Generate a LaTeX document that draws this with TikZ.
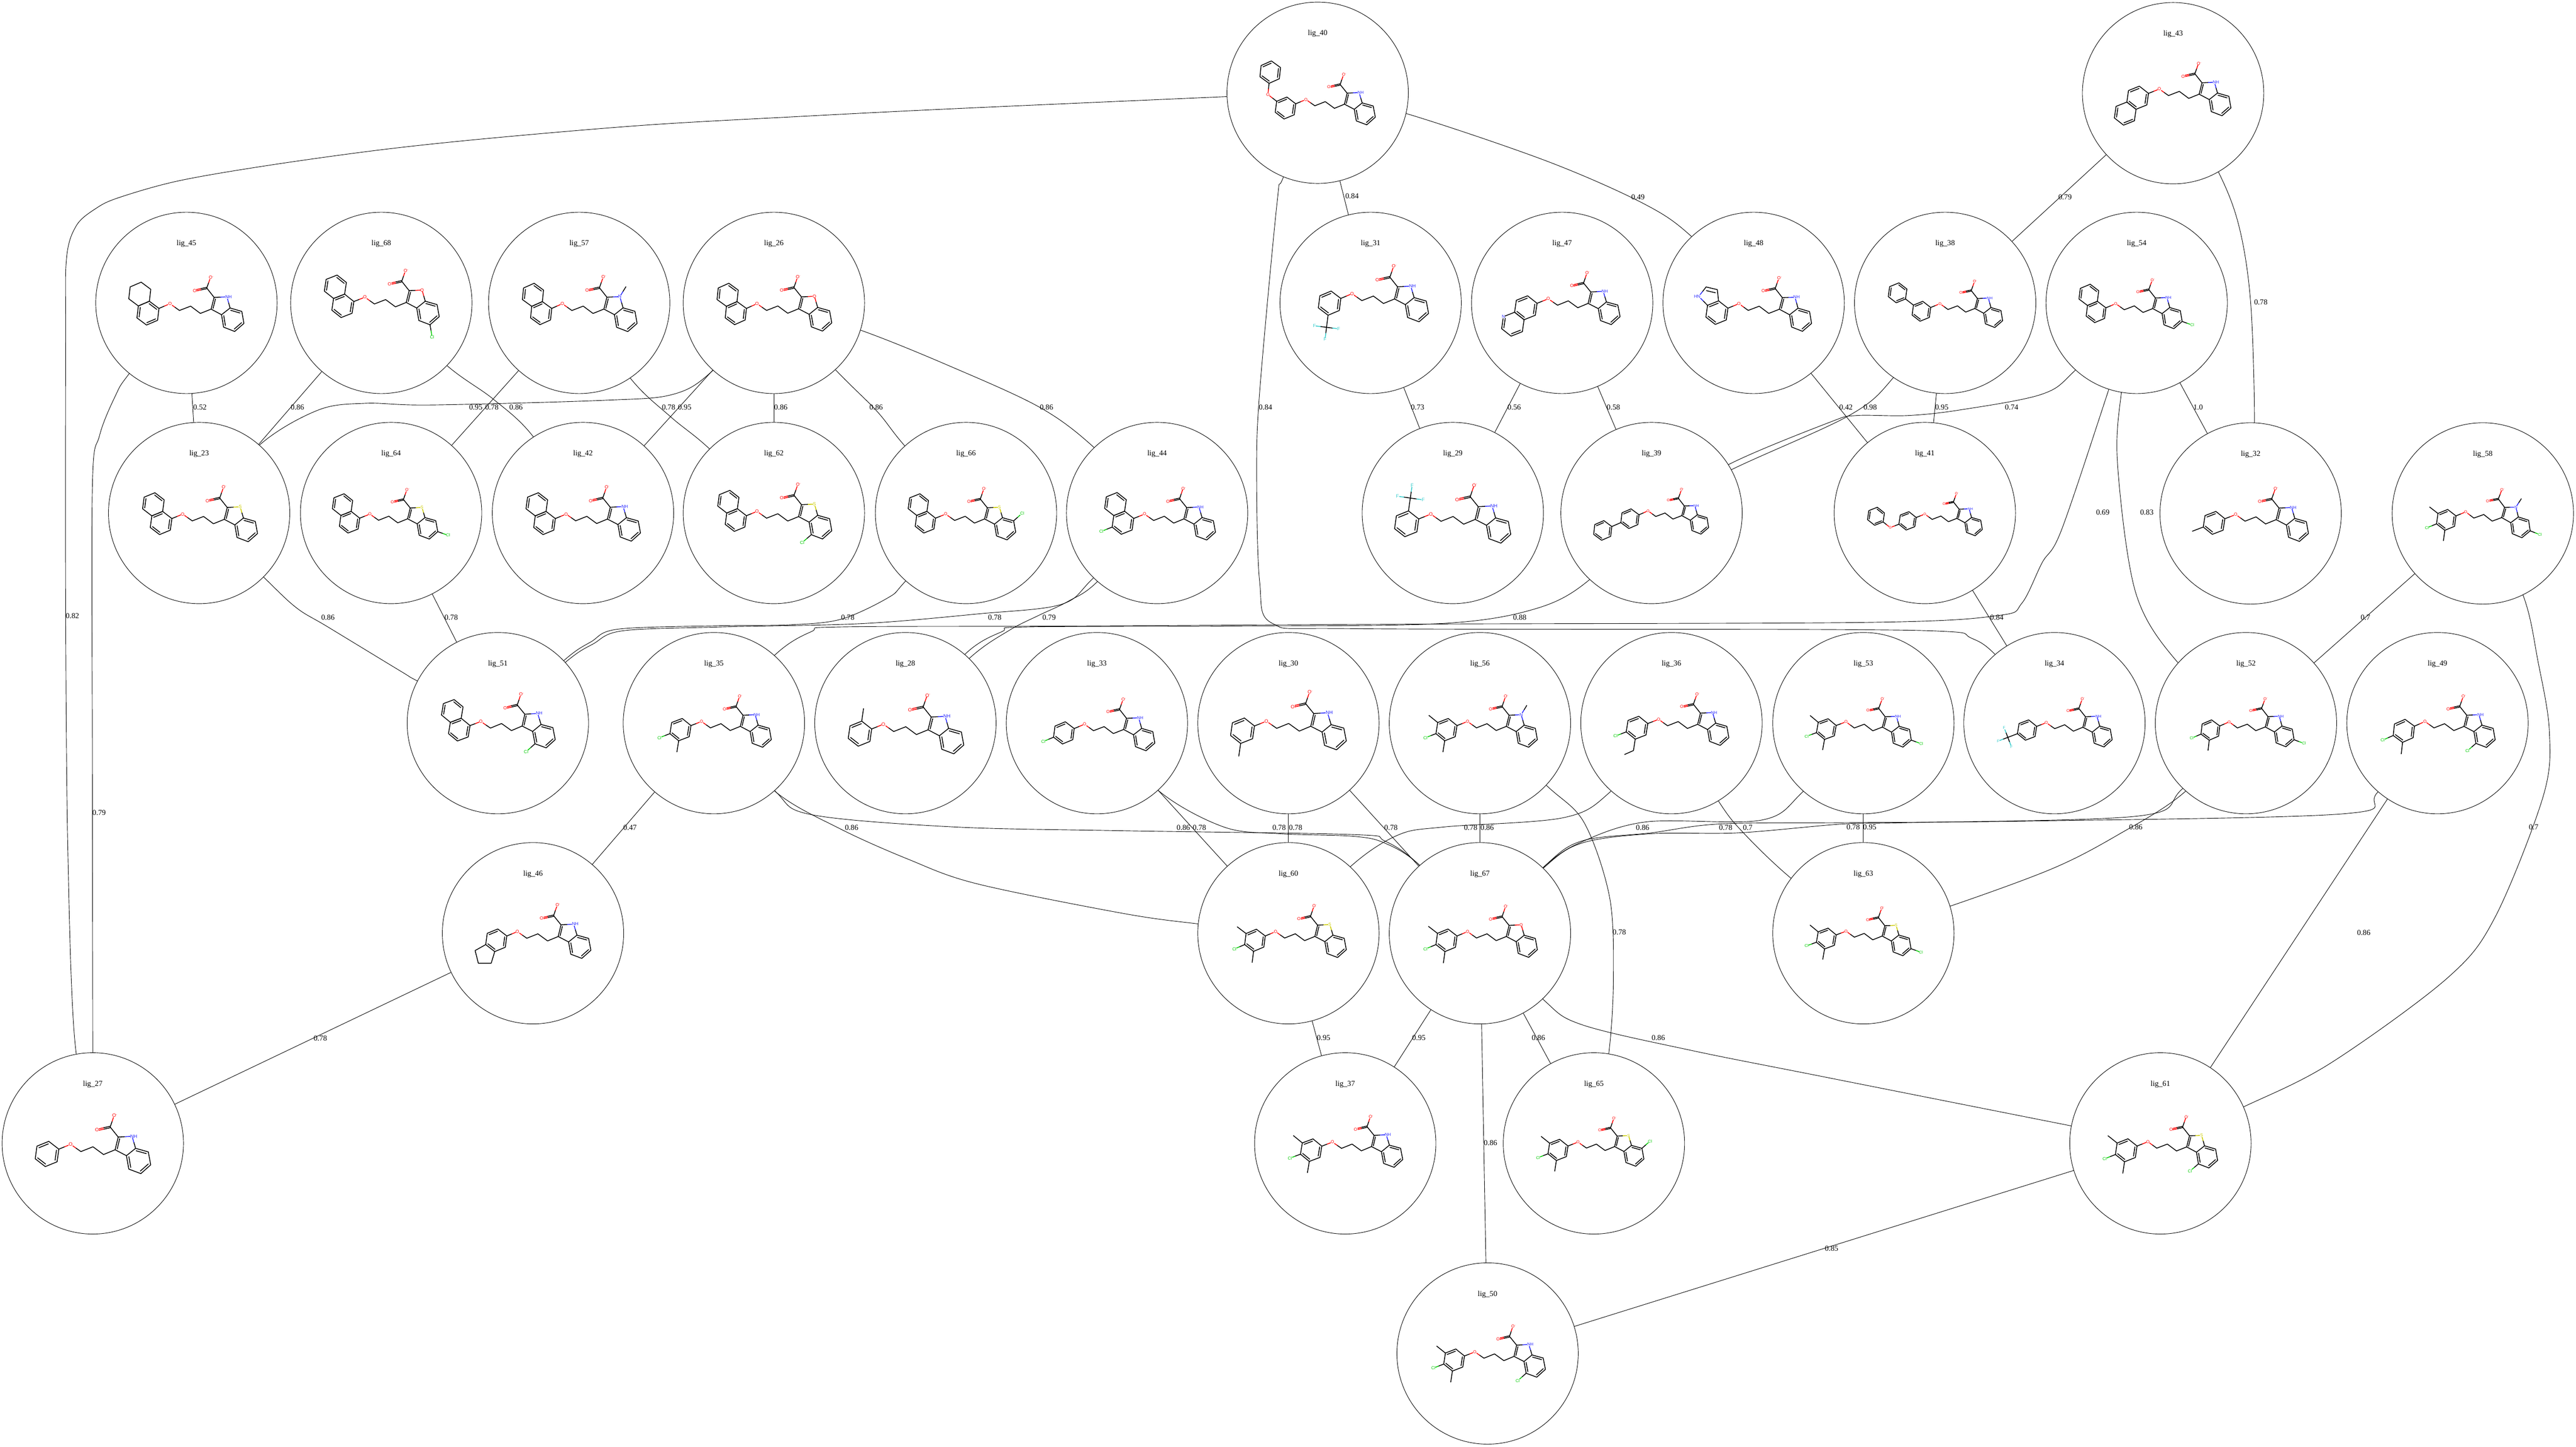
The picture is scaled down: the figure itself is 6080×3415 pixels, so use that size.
\documentclass[tikz,border=0pt]{standalone}
\usepackage{fontspec}
\setmainfont{Liberation Serif}
\setsansfont{Liberation Sans}
\usetikzlibrary{calc,backgrounds}
\definecolor{oxr}{RGB}{255,0,0}
\definecolor{azb}{RGB}{40,40,255}
\definecolor{clg}{RGB}{0,204,0}
\definecolor{syl}{RGB}{204,204,0}
\definecolor{fcy}{RGB}{51,204,204}
\newcounter{atomctr}
\newcounter{edgectr}
\tikzset{
  ligc/.style={circle,draw=black,fill=white,line width=.55pt,minimum size=214pt,inner sep=0pt},
  ligname/.style={font=\fontsize{9}{10}\selectfont,inner sep=0pt,text=black},
  elabel/.style={font=\fontsize{9}{10}\selectfont,inner sep=0pt,text=black},
  edgeline/.style={draw=black,line width=.55pt,line join=round},
  bond/.style={draw=black,line width=.95pt,line cap=round,line join=round},
  atomlab/.style={font=\molfont,fill=white,inner sep=.15pt,outer sep=0pt}
}
\def\molfont{\sffamily\fontsize{\molfs}{\molfs}\selectfont}
\newcommand\lig[3]{\node[ligc] (n#1) at (#2,#3) {}; \node[ligname] (t#1) at ($(n#1)+(0,-139.5)$) {lig\_#1};}
\newcommand\elab[3]{\stepcounter{edgectr}\node[elabel] (e\theedgectr) at (#1,#2) {#3};}
\newcommand\alab[3]{\stepcounter{atomctr}\node[atomlab,text=#2] (atom\theatomctr) at (#1) {#3};}
\newcommand\hb[3]{\draw[bond] (#1) -- ($(#1)!.5!(#2)$); \draw[bond,draw=#3] ($(#1)!.5!(#2)$) -- (#2);}
\newcommand\dbl[3]{\draw[bond] ($(#1)!.2!(#3)$) -- ($(#2)!.2!(#3)$);}
\newcommand\cc[3]{\coordinate (#1) at ($(Oe)+({\mola*(#2)-\molb*(#3)},{\molb*(#2)+\mola*(#3)})$);}
\newcommand\core[7]{%
  \def\molnode{#1}%
  \pgfmathsetmacro\mola{((#4-#2)*1.89+(#5-#3)*.483)/380.54}%
  \pgfmathsetmacro\molb{((#5-#3)*1.89-(#4-#2)*.483)/380.54}%
  \pgfmathsetmacro\mols{sqrt(\mola*\mola+\molb*\molb)}%
  \pgfmathsetmacro\molfs{5.7*\mols}%
  \pgfmathsetmacro\molfsb{3.6*\mols}%
  \pgfmathsetmacro\mold{0.85*\mols}%
  \coordinate (Oe) at ($(#1)+(#2,#3)$);
  \cc{Xa}{24.3}{17}\cc{Xb}{52.7}{5.7}\cc{Xc}{77.7}{24}\cc{X3}{105}{12.7}\cc{X2}{112.3}{-17.3}
  \cc{XN}{145}{-19}\cc{X7a}{153.3}{9.3}\cc{X3a}{131.7}{26.7}\cc{X4}{137.3}{58.3}\cc{X5}{165.7}{69}
  \cc{X6}{189}{48.3}\cc{X7}{183.3}{17.7}\cc{XC}{93.3}{-41}\cc{XOd}{62.3}{-34}\cc{XOm}{102.7}{-68.3}
  \cc{Rb}{160.3}{38.3}\cc{Rf}{129.8}{2.4}\cc{XMe}{160}{-44}
  \draw[bond] (Xa)--(Xb)--(Xc)--(X3)--(X2)--(XC);
  \draw[bond] (X3)--(X3a)--(X7a)--(X7)--(X6)--(X5)--(X4)--(X3a);
  \dbl{X3a}{X4}{Rb}\dbl{X5}{X6}{Rb}\dbl{X7}{X7a}{Rb}\dbl{X3}{X2}{Rf}
  \hb{XC}{XOm}{oxr}
  \coordinate (Da) at ($(XC)!\mold pt!90:(XOd)$);
  \coordinate (Db) at ($(XOd)!\mold pt!-90:(XC)$);
  \coordinate (Dc) at ($(XC)!\mold pt!-90:(XOd)$);
  \coordinate (Dd) at ($(XOd)!\mold pt!90:(XC)$);
  \hb{Da}{Db}{oxr}\hb{Dc}{Dd}{oxr}
  \hb{Xa}{Oe}{oxr}
  \ifcase#6\or
    \hb{X2}{XN}{azb}\hb{X7a}{XN}{azb}\alab{XN}{azb}{N\rlap{H}}%
  \or
    \hb{X2}{XN}{azb}\hb{X7a}{XN}{azb}\hb{XMe}{XN}{azb}\alab{XN}{azb}{N}%
  \or
    \hb{X2}{XN}{syl}\hb{X7a}{XN}{syl}\alab{XN}{syl}{S}%
  \or
    \hb{X2}{XN}{oxr}\hb{X7a}{XN}{oxr}\alab{XN}{oxr}{O}%
  \fi
  \ifnum#7>0
    \coordinate (Cx) at ($(Rb)!2!(X#7)$);
    \hb{X#7}{Cx}{clg}\alab{Cx}{clg}{Cl}%
  \fi
  \alab{XOd}{oxr}{O}%
  \alab{XOm}{oxr}{O\rlap{\raisebox{.35em}{\fontsize{\molfsb}{\molfsb}\selectfont -}}}%
}
\newcommand\hexv[3]{%
  \coordinate (#10) at (#3);
  \coordinate (#11) at ($(#2)!1!60:(#3)$);
  \coordinate (#12) at ($(#2)!1!120:(#3)$);
  \coordinate (#13) at ($(#2)!1!180:(#3)$);
  \coordinate (#14) at ($(#2)!1!240:(#3)$);
  \coordinate (#15) at ($(#2)!1!300:(#3)$);
}
\newcommand\hexdraw[1]{\draw[bond] (#10)--(#11)--(#12)--(#13)--(#14)--(#15)--cycle;}
\newcommand\pat[2]{\dbl{#11}{#12}{#2}\dbl{#13}{#14}{#2}\dbl{#15}{#10}{#2}}
\newcommand\ringA[2]{%
  \coordinate (R) at ($(\molnode)+(#1,#2)$);
  \coordinate (A) at ($(R)!.5!(Oe)$);
  \hexv{v}{R}{A}\hexdraw{v}
  \hb{A}{Oe}{oxr}\alab{Oe}{oxr}{O}%
}
\newcommand\Lph[2]{\ringA{#1}{#2}\pat{v}{R}}
\newcommand\Lnaph[2]{\Lph{#1}{#2}%
  \coordinate (Rt) at ($(v1)+(v2)-(R)$);
  \hexv{w}{Rt}{v2}\hexdraw{w}\dbl{w2}{w3}{Rt}\dbl{w4}{w5}{Rt}}
\newcommand\Lnaphb[2]{\Lph{#1}{#2}%
  \coordinate (Rt) at ($(v3)+(v4)-(R)$);
  \hexv{w}{Rt}{v4}\hexdraw{w}\dbl{w2}{w3}{Rt}\dbl{w4}{w5}{Rt}}
\newcommand\Ltetra[2]{\ringA{#1}{#2}\dbl{v0}{v1}{R}\dbl{v2}{v3}{R}\dbl{v4}{v5}{R}%
  \coordinate (Rt) at ($(v1)+(v2)-(R)$);
  \hexv{w}{Rt}{v2}\hexdraw{w}}
\newcommand\subme[1]{\draw[bond] (#1) -- ($(R)!2!(#1)$);}
\newcommand\subcl[1]{\coordinate (Sx) at ($(R)!2!(#1)$); \hb{#1}{Sx}{clg}\alab{Sx}{clg}{Cl}}
\newcommand\subcf[1]{%
  \coordinate (Sx) at ($(R)!2!(#1)$);
  \coordinate (Fa) at ($(R)!3!(#1)$);
  \coordinate (Fb) at ($(Sx)!1!90:(Fa)$);
  \coordinate (Fc) at ($(Sx)!1!-90:(Fa)$);
  \draw[bond] (#1) -- (Sx);
  \hb{Sx}{Fa}{fcy}\hb{Sx}{Fb}{fcy}\hb{Sx}{Fc}{fcy}
  \alab{Fa}{fcy}{F}\alab{Fb}{fcy}{F}\alab{Fc}{fcy}{F}}
\newcommand\Lclmm[2]{\Lph{#1}{#2}\subme{v2}\subcl{v3}\subme{v4}}
\newcommand\Lclm[2]{\Lph{#1}{#2}\subcl{v3}\subme{v4}}
\newcommand\biph[1]{%
  \coordinate (Pa) at ($(R)!2!(#1)$);
  \coordinate (Rt) at ($(R)!3!(#1)$);
  \draw[bond] (#1) -- (Pa);
  \hexv{w}{Rt}{Pa}\hexdraw{w}\pat{w}{Rt}}
\newcommand\phenoxy[3]{%
  \coordinate (Ob) at ($(R)!2!(#1)$);
  \coordinate (Rt) at ($(\molnode)+(#2,#3)$);
  \coordinate (Pa) at ($(Rt)!.5!(Ob)$);
  \hexv{w}{Rt}{Pa}\hexdraw{w}\pat{w}{Rt}
  \hb{#1}{Ob}{oxr}\hb{Pa}{Ob}{oxr}\alab{Ob}{oxr}{O}}
\begin{document}
\begin{tikzpicture}[x=.5pt,y=-.5pt]
\path[use as bounding box] (0,0) rectangle (6080,3415);
\lig{23}{470}{1211}\lig{26}{1826.5}{715}\lig{27}{219}{2699}\lig{28}{2137}{1707}
\lig{29}{3429}{1211}\lig{30}{3041}{1707}\lig{31}{3235}{715}\lig{32}{5312}{1212}
\lig{33}{2589}{1707}\lig{34}{4849}{1707}\lig{35}{1685}{1707}\lig{36}{3945}{1707}
\lig{37}{3175}{2699}\lig{38}{4591}{715}\lig{39}{3898}{1211}\lig{40}{3110}{219}
\lig{41}{4543}{1211}\lig{42}{1376}{1211}\lig{43}{5129}{220}\lig{44}{2731}{1211}
\lig{45}{440}{715}\lig{46}{1258}{2203}\lig{47}{3687}{715}\lig{48}{4139}{715}
\lig{49}{5753}{1707}\lig{50}{3511}{3195}\lig{51}{1175}{1707}\lig{52}{5301}{1707}
\lig{53}{4398}{1707}\lig{54}{5043}{715}\lig{56}{3493}{1707}\lig{57}{1367}{715}
\lig{58}{5860}{1212}\lig{60}{3041}{2203}\lig{61}{5099}{2699}\lig{62}{1826.5}{1211}
\lig{63}{4398}{2203}\lig{64}{923}{1211}\lig{65}{3762}{2699}\lig{66}{2280}{1211}
\lig{67}{3493}{2203}\lig{68}{900}{715}
\begin{pgfonlayer}{background}
\draw[edgeline] (n45) -- (n23);
\draw[edgeline] (n68) -- (n23);
\draw[edgeline] (n57) -- (n64);
\draw[edgeline] (n26) -- (n42);
\draw[edgeline] (n26) -- (n62);
\draw[edgeline] (n31) -- (n29);
\draw[edgeline] (n47) -- (n29);
\draw[edgeline] (n47) -- (n39);
\draw[edgeline] (n48) -- (n41);
\draw[edgeline] (n38) -- (n41);
\draw[edgeline] (n40) -- (n31);
\draw[edgeline] (n43) -- (n38);
\draw[edgeline] (n54) -- (n32);
\draw[edgeline] (n58) -- (n52);
\draw[edgeline] (n41) -- (n34);
\draw[edgeline] (n35) -- (n46);
\draw[edgeline] (n46) -- (n27);
\draw[edgeline] (n49) -- (n61);
\draw[edgeline] (n53) -- (n63);
\draw[edgeline] (n60) -- (n37);
\draw[edgeline] (n67) -- (n37);
\draw[edgeline] (n67) -- (n65);
\draw[edgeline] (n67) -- (n50);
\draw[edgeline] (n61) -- (n50);
\draw[edgeline] (n33) -- (n60);
\draw[edgeline] (n30) -- (n60);
\draw[edgeline] (n30) -- (n67);
\draw[edgeline] (n56) -- (n67);
\draw[edgeline] (n64) -- (n51);
\draw[edgeline] plot[smooth,tension=.55] coordinates {(n40) (2896,228) (2243,257) (1886,275) (1529,295) (1171,325) (904,353) (636,390) (421,427) (279,467) (225,493) (180,533) (157,610) (155,800) (155,1455) (160,2000) (176,2450) (n27)};
\draw[edgeline] plot[smooth,tension=.55] coordinates {(n45) (305,882) (273,933) (235,1028) (218,1150) (218,1800) (219,2484) (n27)};
\draw[edgeline] plot[smooth,tension=.55] coordinates {(n40) (3029,418) (3014,480) (2973,926) (2966,1118) (2973,1373) (3004,1472) (3200,1484) (4300,1486) (4600,1491) (4650,1505) (4709,1545) (n34)};
\draw[edgeline] plot[smooth,tension=.55] coordinates {(n54) (4977,920) (4866,1250) (4820,1328) (4772,1424) (4716,1453) (4420,1469) (3400,1473) (2500,1478) (1980,1480) (1915,1491) (1828,1547) (n35)};
\draw[edgeline] plot[smooth,tension=.55] coordinates {(n39) (3752,1368) (3624,1437) (3400,1472) (2900,1478) (2420,1480) (2365,1491) (2278,1544) (n28)};
\draw[edgeline] plot[smooth,tension=.55] coordinates {(n44) (2591,1372) (2520,1420) (2453,1452) (2382,1488) (2289,1553) (n28)};
\draw[edgeline] plot[smooth,tension=.55] coordinates {(n44) (2580,1365) (2504,1427) (2310,1449) (2035,1472) (1700,1480) (1470,1489) (1400,1520) (1335,1563) (n51)};
\draw[edgeline] plot[smooth,tension=.55] coordinates {(n66) (2137,1372) (2096,1411) (1984,1462) (1861,1475) (1700,1477) (1460,1485) (1395,1515) (1330,1560) (n51)};
\draw[edgeline] plot[smooth,tension=.55] coordinates {(n23) (623,1363) (700,1435) (774,1480) (950,1587) (986,1608) (n51)};
\draw[edgeline] plot[smooth,tension=.55] coordinates {(n26) (1682,875) (1588,931) (1424,945) (1016,956) (863,952) (751,968) (613,1050) (n23)};
\draw[edgeline] plot[smooth,tension=.55] coordinates {(n68) (1055,863) (1164,942) (1258,1030) (n42)};
\draw[edgeline] plot[smooth,tension=.55] coordinates {(n57) (1488,893) (1583,984) (1674,1059) (n62)};
\draw[edgeline] plot[smooth,tension=.55] coordinates {(n26) (1973,874) (2070,971) (2135,1052) (n66)};
\draw[edgeline] plot[smooth,tension=.55] coordinates {(n26) (2033,780) (2239,863) (2453,961) (2583,1057) (n44)};
\draw[edgeline] plot[smooth,tension=.55] coordinates {(n43) (5235,404) (5285,536) (5312,714) (5321,997) (n32)};
\draw[edgeline] plot[smooth,tension=.55] coordinates {(n40) (3319,268) (3650,380) (3878,480) (3992,558) (n48)};
\draw[edgeline] plot[smooth,tension=.55] coordinates {(n54) (5007,926) (4998,1098) (5041,1400) (5141,1565) (n52)};
\draw[edgeline] plot[smooth,tension=.55] coordinates {(n58) (5955,1405) (5990,1560) (6017,1725) (6003,1878) (5889,2165) (5776,2309) (5500,2510) (5297,2612) (n61)};
\draw[edgeline] plot[smooth,tension=.55] coordinates {(n52) (5157,1869) (5000,1970) (4845,2050) (4603,2139) (n63)};
\draw[edgeline] plot[smooth,tension=.55] coordinates {(n53) (4255,1869) (4157,1936) (3886,1940) (3734,1987) (3642,2048) (n67)};
\draw[edgeline] plot[smooth,tension=.55] coordinates {(n36) (3803,1867) (3691,1930) (3409,1952) (3300,1971) (3187,2046) (n60)};
\draw[edgeline] plot[smooth,tension=.55] coordinates {(n36) (4056,1891) (4114,1965) (4227,2073) (n63)};
\draw[edgeline] plot[smooth,tension=.55] coordinates {(n52) (5151,1862) (5049,1926) (4500,1942) (4350,1945) (4103,1966) (3897,1968) (3734,1990) (3642,2050) (n67)};
\draw[edgeline] plot[smooth,tension=.55] coordinates {(n49) (5613,1869) (5531,1921) (4800,1938) (4350,1942) (4059,1945) (3897,1966) (3734,1985) (3645,2045) (n67)};
\draw[edgeline] plot[smooth,tension=.55] coordinates {(n33) (2735,1867) (2888,1952) (3019,1968) (3192,1974) (3268,1990) (3352,2044) (n67)};
\draw[edgeline] plot[smooth,tension=.55] coordinates {(n35) (1828,1866) (1915,1923) (2251,1952) (2650,1961) (3192,1970) (3268,1985) (3352,2044) (n67)};
\draw[edgeline] plot[smooth,tension=.55] coordinates {(n35) (1828,1867) (1980,1955) (2143,2028) (2305,2086) (2650,2156) (2829,2181) (n60)};
\draw[edgeline] plot[smooth,tension=.55] coordinates {(n56) (3650,1854) (3739,1942) (3799,2118) (3808,2309) (3797,2488) (n65)};
\draw[edgeline] plot[smooth,tension=.55] coordinates {(n67) (3642,2359) (3734,2419) (3994,2480) (4300,2541) (4890,2658) (n61)};
\draw[edgeline] plot[smooth,tension=.55] coordinates {(n38) (4469,891) (4364,981) (4086,1109) (n39)};
\draw[edgeline] plot[smooth,tension=.55] coordinates {(n54) (4898,874) (4818,931) (4624,968) (4502,981) (4380,981) (4318,997) (4079,1097) (n39)};
\end{pgfonlayer}
\elab{3191}{463}{0.84}\elab{3866}{465}{0.49}\elab{4874}{465}{0.79}\elab{5336}{713}{0.78}
\elab{472}{961}{0.52}\elab{702}{961}{0.86}\elab{1123}{961}{0.95}\elab{1161}{961}{0.78}
\elab{1218}{961}{0.86}\elab{1578}{961}{0.78}\elab{1616}{961}{0.95}\elab{1843}{961}{0.86}
\elab{2068}{961}{0.86}\elab{2470}{961}{0.86}\elab{2987}{961}{0.84}\elab{3346}{961}{0.73}
\elab{3574}{961}{0.56}\elab{3808}{961}{0.58}\elab{4357}{961}{0.42}\elab{4414}{961}{0.98}
\elab{4583}{961}{0.95}\elab{4748}{961}{0.74}\elab{5188}{961}{1.0}
\elab{4963}{1209}{0.69}\elab{5067}{1209}{0.83}
\elab{171}{1454}{0.82}\elab{234}{1919}{0.79}
\elab{774}{1458}{0.86}\elab{1065}{1458}{0.78}\elab{2001}{1458}{0.78}\elab{2348}{1458}{0.78}
\elab{2476}{1458}{0.79}\elab{3587}{1458}{0.88}\elab{4713}{1458}{0.84}\elab{5583}{1457}{0.7}
\elab{1487}{1954}{0.47}\elab{2010}{1954}{0.86}\elab{2793}{1954}{0.86}\elab{2831}{1954}{0.78}
\elab{3019}{1954}{0.78}\elab{3058}{1954}{0.78}\elab{3283}{1954}{0.78}\elab{3471}{1954}{0.78}
\elab{3510}{1954}{0.86}\elab{3877}{1954}{0.86}\elab{4073}{1954}{0.78}\elab{4125}{1954}{0.7}
\elab{4374}{1953}{0.78}\elab{4413}{1953}{0.95}\elab{5041}{1953}{0.86}\elab{5980}{1953}{0.7}
\elab{3822}{2201}{0.78}\elab{5579}{2202}{0.86}
\elab{756}{2451}{0.78}\elab{3124}{2450}{0.95}\elab{3349}{2450}{0.95}\elab{3631}{2450}{0.86}\elab{3914}{2450}{0.86}
\elab{3518}{2698}{0.86}\elab{4323}{2947}{0.85}
% molecules
\core{n23}{-38.8}{2.6}{137.8}{48.5}{3}{0}\Lnaph{-89.8}{23.6}
\core{n26}{-39.8}{1.9}{136.7}{47.2}{4}{0}\Lnaph{-89.8}{24.2}
\core{n27}{-52.3}{2.3}{136.7}{50.7}{1}{0}\Lph{-108}{25}
\core{n28}{-52}{2.6}{137.7}{51.7}{1}{0}\Lph{-107.3}{24.9}\subme{v1}
\core{n29}{-52}{2.6}{136.7}{50.4}{1}{0}\Lph{-109}{25.5}\subcf{v1}
\core{n30}{-52}{-4.5}{136.6}{42.1}{1}{0}\Lph{-108.4}{17.9}\subme{v4}
\core{n31}{-43.9}{-21.7}{136.7}{24.9}{1}{0}\Lph{-96.9}{.6}\subcf{v4}
\core{n32}{-35.2}{2.7}{136.5}{47.3}{1}{0}\Lph{-86.3}{22.3}\subme{v3}
\core{n33}{-29.3}{2.6}{136.6}{47.2}{1}{0}\Lph{-78}{23}\subcl{v3}
\core{n34}{-19.3}{-1}{136.2}{39.2}{1}{0}\Lph{-64.7}{16.3}\subcf{v3}
\core{n35}{-29.3}{-3.8}{135.5}{38.9}{1}{0}\Lclm{-79}{15.3}
\core{n36}{-30.4}{-8.9}{135.5}{34.4}{1}{0}\Lph{-81.3}{10.8}\subcl{v3}
\coordinate (Eb) at ($(R)!2!(v4)$); \coordinate (Ec) at ($(n36)+(-110.6,74)$); \draw[bond] (v4)--(Eb)--(Ec);
\core{n37}{-30}{-3}{135.8}{38.2}{1}{0}\Lclmm{-80.4}{16}
\core{n38}{-12.2}{1.9}{135.7}{42.1}{1}{0}\Lph{-56.1}{19.8}\biph{v2}
\core{n39}{-8.2}{-5.1}{134.7}{34.4}{1}{0}\Lph{-51}{13.4}\biph{v3}
\core{n40}{-27.7}{16}{136}{57.7}{1}{0}\Lph{-76}{36}\phenoxy{v2}{-112}{-48.7}
\core{n41}{0}{2.6}{135.7}{38.9}{1}{0}\Lph{-40.8}{18.5}\phenoxy{v3}{-115.3}{7.7}
\core{n42}{-39.8}{2.6}{135.7}{47.2}{1}{0}\Lnaph{-90.8}{23.6}
\core{n43}{-32.5}{-9.8}{136.5}{34.8}{1}{0}\Lnaphb{-83.6}{10.7}
\core{n44}{-29.6}{2.6}{137.8}{45.3}{1}{0}\Lnaph{-80.6}{23}\subcl{v3}
\core{n45}{-38.8}{1.9}{135.7}{48.5}{1}{0}\Ltetra{-90.8}{24.2}
\core{n46}{-36.9}{-3.8}{136.6}{40.2}{1}{0}\Lph{-86.7}{16.6}
\coordinate (Ia) at ($(n46)+(-136.6,40.8)$); \coordinate (Ib) at ($(n46)+(-129,70.8)$); \coordinate (Ic) at ($(n46)+(-98.7,70.8)$); \draw[bond] (v3)--(Ia)--(Ib)--(Ic)--(v4);
\core{n47}{-32.7}{-9.6}{136.7}{32.5}{1}{0}\Lnaphb{-85.7}{11.5}\alab{w2}{azb}{N}
\core{n48}{-34.7}{1.9}{136.7}{48.5}{1}{0}\Lph{-86.7}{23}
\coordinate (Pn) at ($(n48)+(-129.6,-15.3)$); \coordinate (Pb) at ($(n48)+(-112.2,-37.6)$); \coordinate (Pc) at ($(n48)+(-85.7,-31.3)$);
\draw[bond] (v1)--(Pc)--(Pb); \hb{v2}{Pn}{azb}\hb{Pb}{Pn}{azb}\dbl{Pb}{Pc}{v2}\alab{Pn}{azb}{\llap{H}N}
\core{n49}{-29.5}{-3.8}{136.2}{39.2}{1}{4}\Lclm{-79.5}{18.2}
\core{n50}{-30}{-3.7}{136.5}{37.5}{1}{4}\Lclmm{-79}{15.4}
\core{n51}{-40.1}{-3.8}{135.5}{38.9}{1}{4}\Lnaph{-91}{15.3}
\core{n52}{-39.7}{-2.9}{113.5}{39.2}{1}{6}\Lclm{-84}{16.3}
\core{n53}{-41}{-3}{113}{40}{1}{6}\Lclmm{-87.5}{14}
\core{n54}{-49.3}{1.8}{107.4}{43.8}{1}{6}\Lnaph{-95.9}{21.4}
\core{n56}{-29.3}{-3.8}{135.5}{38.9}{2}{0}\Lclmm{-79}{15.3}
\core{n57}{-39.8}{1.9}{136.7}{48.5}{2}{0}\Lnaph{-89.8}{24.2}
\core{n58}{-40.4}{-3.6}{111.8}{41.1}{2}{6}\Lclmm{-86.3}{15.2}
\core{n60}{-30.4}{-3.8}{136.6}{38.9}{3}{0}\Lclmm{-79}{16.6}
\core{n61}{-29.5}{-3.8}{135}{40.2}{3}{4}\Lclmm{-80.6}{16.3}
\core{n62}{-39.8}{-3.8}{136.7}{42}{3}{4}\Lnaph{-89.8}{16.6}
\core{n63}{-40.9}{-4.8}{112.4}{36.4}{3}{6}\Lclmm{-87.5}{12.5}
\core{n64}{-50}{2.6}{110.2}{44}{3}{6}\Lnaph{-98}{21.7}
\core{n65}{-37.6}{-3}{118}{36.9}{3}{7}\Lclmm{-84.8}{15.4}
\core{n66}{-48}{2.6}{117.3}{45.3}{3}{7}\Lnaph{-96}{21.7}
\core{n67}{-29.3}{-3.8}{135.5}{38.9}{4}{0}\Lclmm{-79}{16.6}
\core{n68}{-38.8}{-13.4}{136.7}{32.5}{4}{5}\Lnaph{-90.8}{7}
\end{tikzpicture}
\end{document}
